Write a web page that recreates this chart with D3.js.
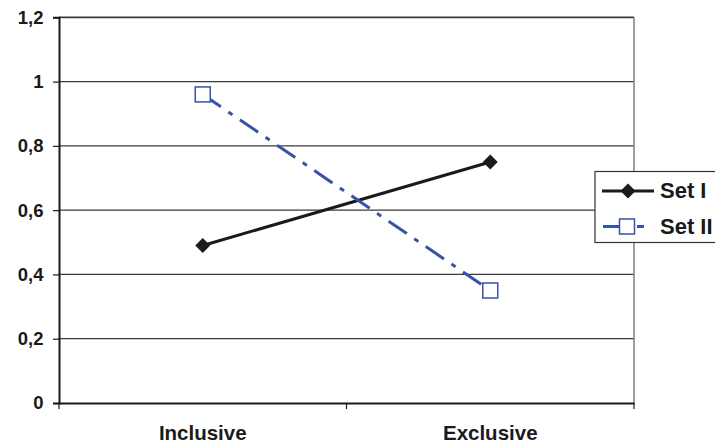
<!DOCTYPE html>
<html><head><meta charset="utf-8">
<script src="https://cdn.jsdelivr.net/npm/d3@7"></script>
<style>
html,body{margin:0;padding:0;background:#fff;}
svg{display:block;font-family:"Liberation Sans",Arial,sans-serif;font-weight:bold;}
</style></head>
<body>
<svg id="chart" width="715" height="445"></svg>
<script>
const categories = ["Inclusive", "Exclusive"];
const seriesNames = ["Set I", "Set II"];
const setI = [0.49, 0.75];
const setII = [0.96, 0.35];
const yTicks = [0, 0.2, 0.4, 0.6, 0.8, 1, 1.2];
const yTickLabels = ["0", "0,2", "0,4", "0,6", "0,8", "1", "1,2"];

const svg = d3.select("#chart");
const plotLeft = 59, plotRight = 634, plotTop = 17.3, plotBottom = 403;

const x = d3.scaleBand().domain(categories).range([plotLeft, plotRight]).padding(0);
const y = d3.scaleLinear().domain([0, 1.2]).range([plotBottom, plotTop]);
const cx = c => x(c) + x.bandwidth() / 2;

// gridlines
svg.append("g").selectAll("line").data(yTicks.filter(v => v > 0)).join("line")
  .attr("x1", plotLeft).attr("x2", plotRight)
  .attr("y1", d => y(d)).attr("y2", d => y(d))
  .attr("stroke", "#3a3a3a").attr("stroke-width", d => d === 1.2 ? 1.8 : 1.2);

// right border
svg.append("line").attr("x1", plotRight).attr("x2", plotRight).attr("y1", plotTop).attr("y2", plotBottom)
  .attr("stroke", "#808080").attr("stroke-width", 1.5);

// y axis
const yAxis = d3.axisLeft(y).tickValues(yTicks)
  .tickFormat((d, i) => yTickLabels[i]).tickSize(6).tickPadding(9.5);
const gy = svg.append("g").attr("transform", `translate(${plotLeft},0)`).call(yAxis);
gy.select(".domain").attr("stroke", "#1a1a1a").attr("stroke-width", 2);
gy.selectAll(".tick line").attr("stroke", "#1a1a1a").attr("stroke-width", 1.2);
gy.selectAll("text").attr("font-size", 18.5).attr("font-weight", "bold")
  .attr("fill", "#1a1a1a").attr("font-family", "Liberation Sans, Arial, sans-serif");

// x axis
const xAxis = d3.axisBottom(x).tickSize(0).tickPadding(22.5);
const gx = svg.append("g").attr("transform", `translate(0,${plotBottom})`).call(xAxis);
gx.select(".domain").attr("stroke", "#1a1a1a").attr("stroke-width", 1.8);
gx.selectAll("text").attr("font-size", 20.5).attr("font-weight", "bold")
  .attr("fill", "#1a1a1a").attr("font-family", "Liberation Sans, Arial, sans-serif");
// category boundary ticks
const bounds = categories.map(c => x(c)).concat([x.range()[1]]);
svg.append("g").selectAll("line").data(bounds).join("line")
  .attr("x1", d => d).attr("x2", d => d).attr("y1", plotBottom).attr("y2", plotBottom + 6)
  .attr("stroke", "#1a1a1a").attr("stroke-width", 1.2);

const blue = "#3853a6";
const dash = "22,9,5,9";
const line = d3.line().x((d, i) => cx(categories[i])).y(d => y(d));

// Set I
svg.append("path").datum(setI).attr("d", line).attr("fill", "none")
  .attr("stroke", "#1a1a1a").attr("stroke-width", 3);
const diamond = d3.symbol().type(d3.symbolSquare).size(112);
svg.append("g").selectAll("path").data(setI).join("path")
  .attr("d", diamond)
  .attr("transform", (d, i) => `translate(${cx(categories[i])},${y(d)}) rotate(45)`)
  .attr("fill", "#1a1a1a");

// Set II
svg.append("path").datum(setII).attr("d", line).attr("fill", "none")
  .attr("stroke", blue).attr("stroke-width", 3).attr("stroke-dasharray", dash);
svg.append("g").selectAll("rect").data(setII).join("rect")
  .attr("x", (d, i) => cx(categories[i]) - 7.5).attr("y", d => y(d) - 7.5)
  .attr("width", 15).attr("height", 15)
  .attr("fill", "#fff").attr("stroke", blue).attr("stroke-width", 1.5);

// legend
const lg = svg.append("g");
lg.append("rect").attr("x", 595).attr("y", 171.5).attr("width", 140).attr("height", 71)
  .attr("fill", "#fff").attr("stroke", "#333").attr("stroke-width", 1.2);
const rows = [191, 226.5];
lg.append("line").attr("x1", 602).attr("x2", 654).attr("y1", rows[0]).attr("y2", rows[0])
  .attr("stroke", "#1a1a1a").attr("stroke-width", 3);
lg.append("path").attr("d", diamond).attr("transform", `translate(628,${rows[0]}) rotate(45)`)
  .attr("fill", "#1a1a1a");
lg.append("line").attr("x1", 603).attr("x2", 644).attr("y1", rows[1]).attr("y2", rows[1])
  .attr("stroke", blue).attr("stroke-width", 3).attr("stroke-dasharray", "17,17,7,9");
lg.append("rect").attr("x", 619.5).attr("y", rows[1] - 7.5).attr("width", 15).attr("height", 15)
  .attr("fill", "#fff").attr("stroke", blue).attr("stroke-width", 1.5);
lg.selectAll("text").data(seriesNames).join("text")
  .attr("x", 660).attr("y", (d, i) => rows[i]).attr("dy", "0.32em")
  .attr("font-size", 22).attr("font-weight", "bold").attr("fill", "#1a1a1a")
  .text(d => d);
</script>
</body></html>
